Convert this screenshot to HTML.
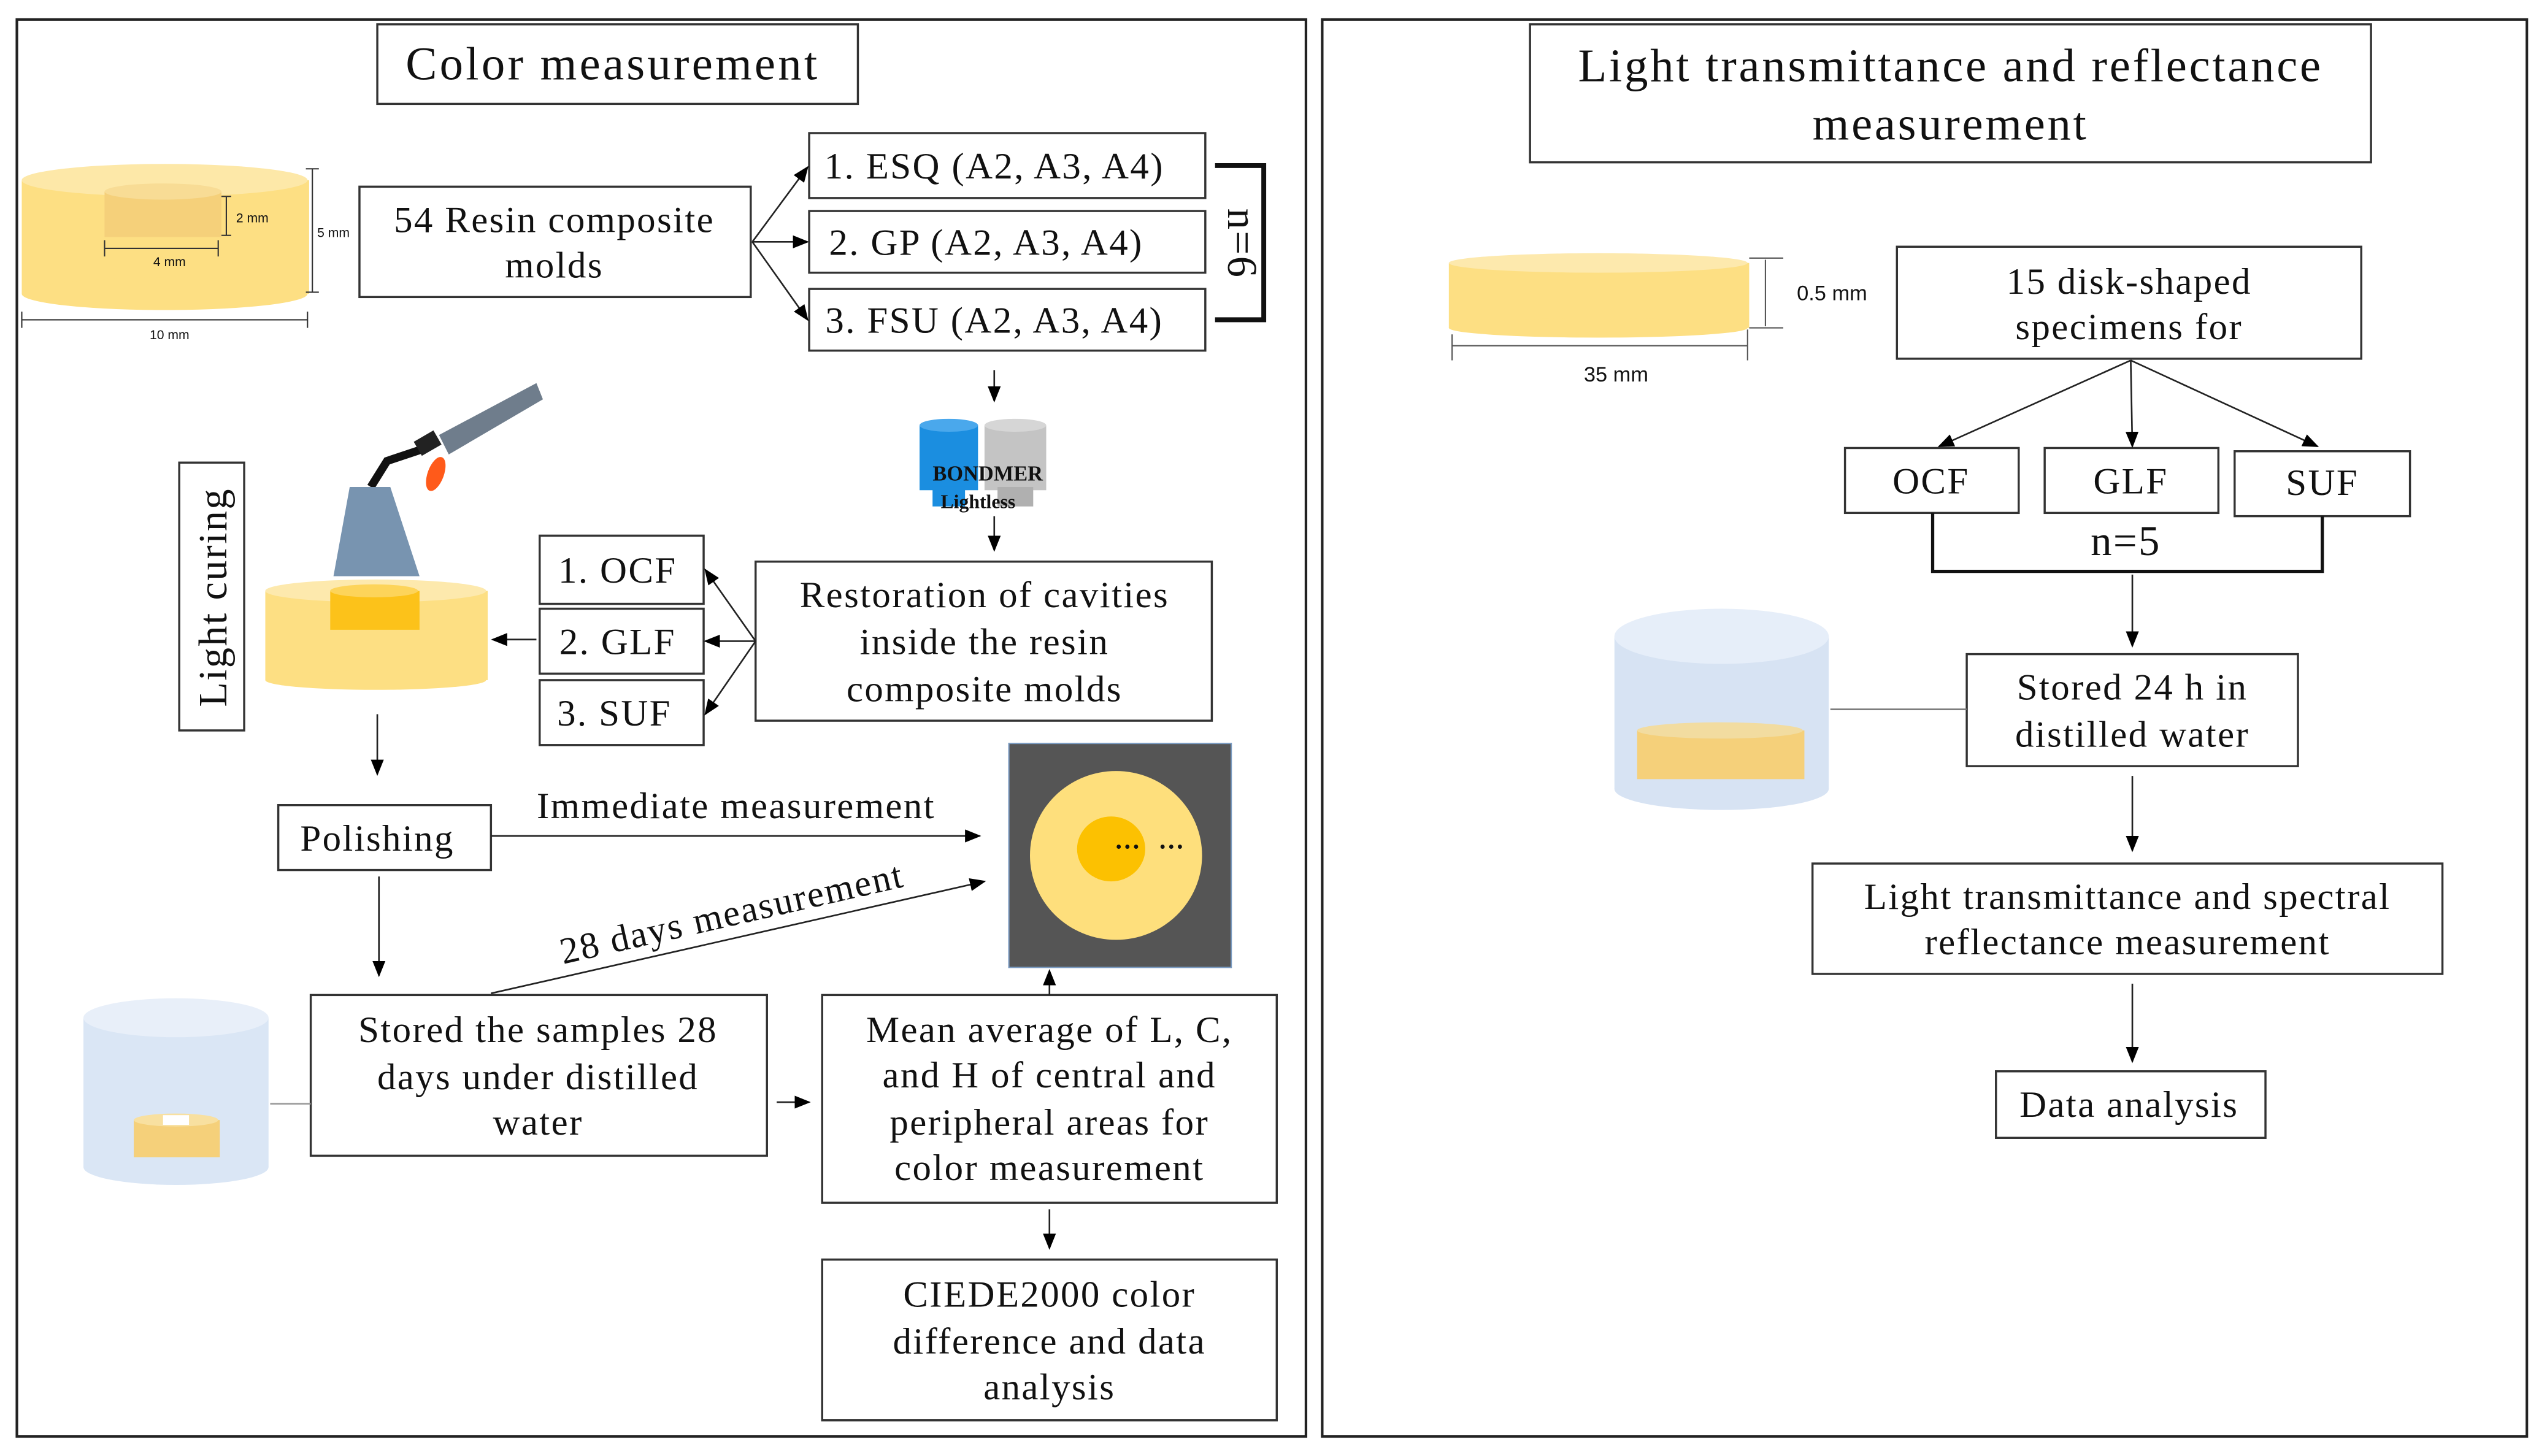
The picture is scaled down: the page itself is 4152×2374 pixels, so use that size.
<!DOCTYPE html>
<html><head><meta charset="utf-8"><style>html,body{margin:0;padding:0;background:#fff}svg{display:block}</style></head>
<body>
<svg xmlns="http://www.w3.org/2000/svg" width="4152" height="2374" viewBox="0 0 1568 897">
<defs>
<marker id="a" markerWidth="10" markerHeight="10" refX="9" refY="5" orient="auto" markerUnits="userSpaceOnUse"><path d="M0,1 L10,5 L0,9 z" fill="#000"/></marker>
</defs>
<rect width="1568" height="897" fill="#fff"/>
<g fill="none" stroke="#222" stroke-width="1.6">
<rect x="10" y="12" width="794" height="873"/>
<rect x="814" y="12" width="742" height="873"/>
</g>
<g font-family="Liberation Serif, serif" fill="#111" text-anchor="middle">
<rect x="232" y="15" width="296" height="49" fill="#fff" stroke="#333" stroke-width="1.3"/>
<text x="377" y="49" font-size="29" letter-spacing="1.6">Color measurement</text>

<rect x="13" y="111" width="177" height="70" fill="#fddf83"/>
<ellipse cx="101" cy="181" rx="88" ry="10" fill="#fddf83"/>
<ellipse cx="101" cy="111" rx="88" ry="10" fill="#fde8a8"/>
<rect x="64" y="118" width="72" height="28" fill="#f5d07a"/>
<ellipse cx="100" cy="118" rx="36" ry="5" fill="#f8dc95"/>
<g stroke="#333" stroke-width="0.8" fill="none">
<line x1="139" y1="121" x2="139" y2="145"/><line x1="136" y1="121" x2="142" y2="121"/><line x1="136" y1="145" x2="142" y2="145"/>
<line x1="64" y1="153" x2="134" y2="153"/><line x1="64" y1="148" x2="64" y2="158"/><line x1="134" y1="148" x2="134" y2="158"/>
<line x1="192" y1="104" x2="192" y2="180"/><line x1="188" y1="104" x2="196" y2="104"/><line x1="188" y1="180" x2="196" y2="180"/>
<line x1="13" y1="197" x2="189" y2="197"/><line x1="13" y1="192" x2="13" y2="202"/><line x1="189" y1="192" x2="189" y2="202"/>
</g>
<g font-family="Liberation Sans, sans-serif" font-size="8">
<text x="155" y="137">2 mm</text><text x="104" y="164">4 mm</text><text x="205" y="146">5 mm</text><text x="104" y="209">10 mm</text>
</g>

<g fill="#fff" stroke="#333" stroke-width="1.3">
<rect x="221" y="115" width="241" height="68"/>
<rect x="498" y="82" width="244" height="40"/>
<rect x="498" y="130" width="244" height="38"/>
<rect x="498" y="178" width="244" height="38"/>
<rect x="465" y="346" width="281" height="98"/>
<rect x="332" y="330" width="101" height="42"/>
<rect x="332" y="375" width="101" height="40"/>
<rect x="332" y="419" width="101" height="40"/>
<rect x="110" y="285" width="40" height="165"/>
<rect x="171" y="496" width="131" height="40"/>
<rect x="191" y="613" width="281" height="99"/>
<rect x="506" y="613" width="280" height="128"/>
<rect x="506" y="776" width="280" height="99"/>
</g>
<g font-size="23" letter-spacing="0.9">
<text x="341" y="143">54 Resin composite</text><text x="341" y="171">molds</text>
<text x="612" y="110">1. ESQ (A2, A3, A4)</text>
<text x="607" y="157">2. GP (A2, A3, A4)</text>
<text x="612" y="205">3. FSU (A2, A3, A4)</text>
<text x="606" y="374">Restoration of cavities</text>
<text x="606" y="403">inside the resin</text>
<text x="606" y="432">composite molds</text>
<text x="380" y="359">1. OCF</text>
<text x="380" y="403">2. GLF</text>
<text x="378" y="447">3. SUF</text>
<text x="232" y="524">Polishing</text>
<text x="453" y="504">Immediate measurement</text>
<text x="331" y="642">Stored the samples 28</text>
<text x="331" y="671">days under distilled</text>
<text x="331" y="699">water</text>
<text x="646" y="642">Mean average of L, C,</text>
<text x="646" y="670">and H of central and</text>
<text x="646" y="699">peripheral areas for</text>
<text x="646" y="727">color measurement</text>
<text x="646" y="805">CIEDE2000 color</text>
<text x="646" y="834">difference and data</text>
<text x="646" y="862">analysis</text>
<text transform="translate(139,368) rotate(-90)" font-size="25">Light curing</text>
<text transform="translate(452,570) rotate(-12.8)">28 days measurement</text>
<text transform="translate(756,150) rotate(90)" font-size="26">n=6</text>
</g>
<path d="M748,102 H778 V197 H748" fill="none" stroke="#111" stroke-width="3"/>

<g stroke="#222" stroke-width="1" fill="none" marker-end="url(#a)">
<line x1="463" y1="149" x2="497" y2="103"/>
<line x1="463" y1="149" x2="497" y2="149"/>
<line x1="463" y1="149" x2="497" y2="197"/>
<line x1="612" y1="228" x2="612" y2="247"/>
<line x1="612" y1="318" x2="612" y2="339"/>
<line x1="465" y1="395" x2="434" y2="351"/>
<line x1="465" y1="395" x2="434" y2="395"/>
<line x1="465" y1="395" x2="434" y2="440"/>
<line x1="330" y1="394" x2="303" y2="394"/>
<line x1="232" y1="440" x2="232" y2="477"/>
<line x1="302" y1="515" x2="603" y2="515"/>
<line x1="302" y1="612" x2="606" y2="543"/>
<line x1="233" y1="540" x2="233" y2="601"/>
<line x1="478" y1="679" x2="498" y2="679"/>
<line x1="646" y1="613" x2="646" y2="598"/>
<line x1="646" y1="745" x2="646" y2="769"/>
</g>

<rect x="566" y="262" width="36" height="40" fill="#1b8ee0"/><ellipse cx="584" cy="262" rx="18" ry="4" fill="#4aa8ec"/>
<rect x="574" y="300" width="20" height="12" fill="#1b8ee0"/>
<rect x="606" y="262" width="38" height="40" fill="#c4c4c4"/><ellipse cx="625" cy="262" rx="19" ry="4" fill="#d6d6d6"/>
<rect x="614" y="300" width="22" height="12" fill="#b0b0b0"/>
<text x="608" y="296" font-size="13" font-weight="bold">BONDMER</text>
<text x="602" y="313" font-size="12" font-weight="bold">Lightless</text>

<path d="M270,268 L330,236 L334,246 L276,280 z" fill="#6f7d8c"/>
<path d="M262,276 L238,284 L228,300" stroke="#111" stroke-width="5" fill="none"/>
<rect x="256" y="268" width="14" height="10" fill="#222" transform="rotate(-30 263 273)"/>
<ellipse cx="268" cy="292" rx="5" ry="11" fill="#ff5a1a" transform="rotate(20 268 292)"/>
<path d="M215,300 L240,300 L258,355 L205,355 z" fill="#7894b0"/>
<rect x="163" y="364" width="137" height="55" fill="#fddf83"/>
<ellipse cx="231" cy="419" rx="68" ry="6" fill="#fddf83"/>
<ellipse cx="231" cy="364" rx="68" ry="7" fill="#fde9ad"/>
<rect x="203" y="364" width="55" height="24" fill="#fcc21a"/>
<ellipse cx="230" cy="364" rx="27" ry="4" fill="#fdd45a"/>

<rect x="51" y="627" width="114" height="92" fill="#dae6f5"/>
<ellipse cx="108" cy="719" rx="57" ry="11" fill="#dae6f5"/>
<ellipse cx="108" cy="627" rx="57" ry="12" fill="#e8eff9"/>
<rect x="82" y="690" width="53" height="23" fill="#f5d07a"/>
<ellipse cx="108" cy="690" rx="26" ry="4" fill="#f8e0a0"/>
<rect x="100" y="687" width="16" height="6" fill="#fff"/>
<line x1="166" y1="680" x2="191" y2="680" stroke="#999" stroke-width="1"/>

<rect x="621" y="458" width="137" height="138" fill="#555" stroke="#7a9ac0" stroke-width="0.8"/>
<ellipse cx="687" cy="527" rx="53" ry="52" fill="#fedf7c"/>
<ellipse cx="684" cy="523" rx="21" ry="20" fill="#fcc101"/>
<text x="694" y="527" font-size="16" font-weight="bold">···</text>
<text x="721" y="527" font-size="16" font-weight="bold">···</text>

<rect x="942" y="15" width="518" height="85" fill="#fff" stroke="#333" stroke-width="1.3"/>
<text x="1201" y="50" font-size="29" letter-spacing="1.4">Light transmittance and reflectance</text>
<text x="1201" y="86" font-size="29" letter-spacing="1.4">measurement</text>

<rect x="892" y="162" width="185" height="40" fill="#fddf83"/>
<ellipse cx="984" cy="202" rx="92" ry="6" fill="#fddf83"/>
<ellipse cx="984" cy="162" rx="92" ry="6" fill="#fde9ad"/>
<g stroke="#555" stroke-width="0.8" fill="none">
<line x1="1077" y1="159" x2="1098" y2="159"/><line x1="1077" y1="202" x2="1098" y2="202"/>
<line x1="1087" y1="160" x2="1087" y2="201"/>
<line x1="894" y1="213" x2="1076" y2="213"/><line x1="894" y1="206" x2="894" y2="222"/><line x1="1076" y1="203" x2="1076" y2="222"/>
</g>
<g font-family="Liberation Sans, sans-serif" font-size="13">
<text x="1128" y="185">0.5 mm</text><text x="995" y="235">35 mm</text>
</g>

<g fill="#fff" stroke="#333" stroke-width="1.3">
<rect x="1168" y="152" width="286" height="69"/>
<rect x="1136" y="276" width="107" height="40"/>
<rect x="1259" y="276" width="107" height="40"/>
<rect x="1376" y="278" width="108" height="40"/>
<rect x="1211" y="403" width="204" height="69"/>
<rect x="1116" y="532" width="388" height="68"/>
<rect x="1229" y="660" width="166" height="41"/>
</g>
<path d="M1190,316 V352 H1430 V318" fill="none" stroke="#111" stroke-width="2"/>
<g font-size="23" letter-spacing="0.9">
<text x="1311" y="181">15 disk-shaped</text><text x="1311" y="209">specimens for</text>
<text x="1189" y="304">OCF</text><text x="1312" y="304">GLF</text><text x="1430" y="305">SUF</text>
<text x="1309" y="342" font-size="26">n=5</text>
<text x="1313" y="431">Stored 24 h in</text><text x="1313" y="460">distilled water</text>
<text x="1310" y="560">Light transmittance and spectral</text>
<text x="1310" y="588">reflectance measurement</text>
<text x="1311" y="688">Data analysis</text>
</g>
<g stroke="#222" stroke-width="1" fill="none" marker-end="url(#a)">
<line x1="1312" y1="222" x2="1194" y2="275"/>
<line x1="1312" y1="222" x2="1313" y2="275"/>
<line x1="1312" y1="222" x2="1427" y2="275"/>
<line x1="1313" y1="354" x2="1313" y2="398"/>
<line x1="1313" y1="478" x2="1313" y2="524"/>
<line x1="1313" y1="606" x2="1313" y2="654"/>
</g>
<rect x="994" y="392" width="132" height="94" fill="#d7e3f3"/>
<ellipse cx="1060" cy="486" rx="66" ry="13" fill="#d7e3f3"/>
<ellipse cx="1060" cy="392" rx="66" ry="17" fill="#e6eef9"/>
<rect x="1008" y="450" width="103" height="30" fill="#f5d07a"/>
<ellipse cx="1059" cy="450" rx="51" ry="5" fill="#f2dca0"/>
<line x1="1127" y1="437" x2="1211" y2="437" stroke="#777" stroke-width="1"/>
</g>
</svg>
</body></html>
